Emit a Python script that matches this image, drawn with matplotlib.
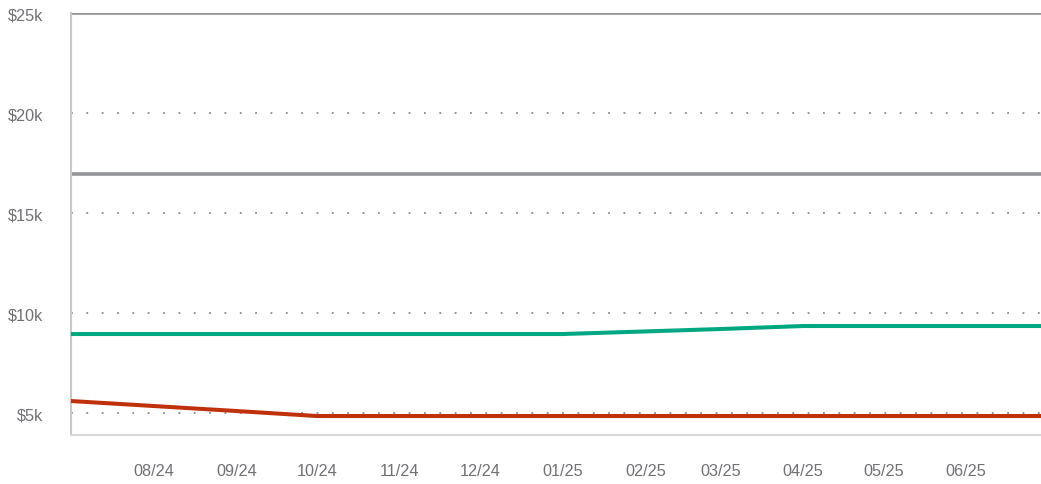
import pandas as pd
import matplotlib.pyplot as plt
import matplotlib.dates as mdates
from matplotlib.ticker import FuncFormatter

plt.rcParams['font.family'] = ['Liberation Sans', 'DejaVu Sans']

months = pd.date_range("2024-07-01", "2025-07-01", freq="MS")
upper = [8.95, 8.95, 8.95, 8.95, 8.95, 8.95, 8.95, 9.08, 9.2, 9.35, 9.35, 9.35, 9.35]
lower = [5.6, 5.35, 5.1, 4.85, 4.85, 4.85, 4.85, 4.85, 4.85, 4.85, 4.85, 4.85, 4.85]
limits = [25, 16.95]
yticks = [5, 10, 15, 20, 25]

GRAY_TXT = "#707175"

def main():
    fig = plt.figure(figsize=(10.41, 4.85), dpi=100)
    ax = fig.add_axes([0.068, 0.101, 0.932, 0.870])

    for y in yticks[:-1]:
        ax.axhline(y, color="#8a8a8a", linewidth=1.3, linestyle=(0, (1, 7.5)), zorder=1)
    for y in limits:
        ax.axhline(y, color="#939598", linewidth=2.6, zorder=2)

    ax.plot(months, upper, color="#00a882", linewidth=2.9, zorder=3)
    ax.plot(months, lower, color="#c0300a", linewidth=2.9, zorder=3)

    ax.set_xlim(pd.Timestamp("2024-07-01"), pd.Timestamp("2025-06-29"))
    ax.set_ylim(3.9, 25)

    ax.set_yticks(yticks)
    ax.yaxis.set_major_formatter(FuncFormatter(lambda v, p: f"${v:.0f}k"))
    ax.set_xticks(months[1:12])
    ax.xaxis.set_major_formatter(mdates.DateFormatter("%m/%y"))

    ax.tick_params(axis="both", length=0, colors=GRAY_TXT, labelsize=11.7)
    ax.tick_params(axis="x", pad=20)
    ax.tick_params(axis="y", pad=20)

    for s in ["top", "right"]:
        ax.spines[s].set_visible(False)
    ax.spines["left"].set_color("#c8c8c8")
    ax.spines["left"].set_linewidth(1.5)
    ax.spines["bottom"].set_color("#d8d8d8")
    ax.spines["bottom"].set_linewidth(1.5)

    fig.savefig("out.png", dpi=100)


if __name__ == "__main__":
    main()
